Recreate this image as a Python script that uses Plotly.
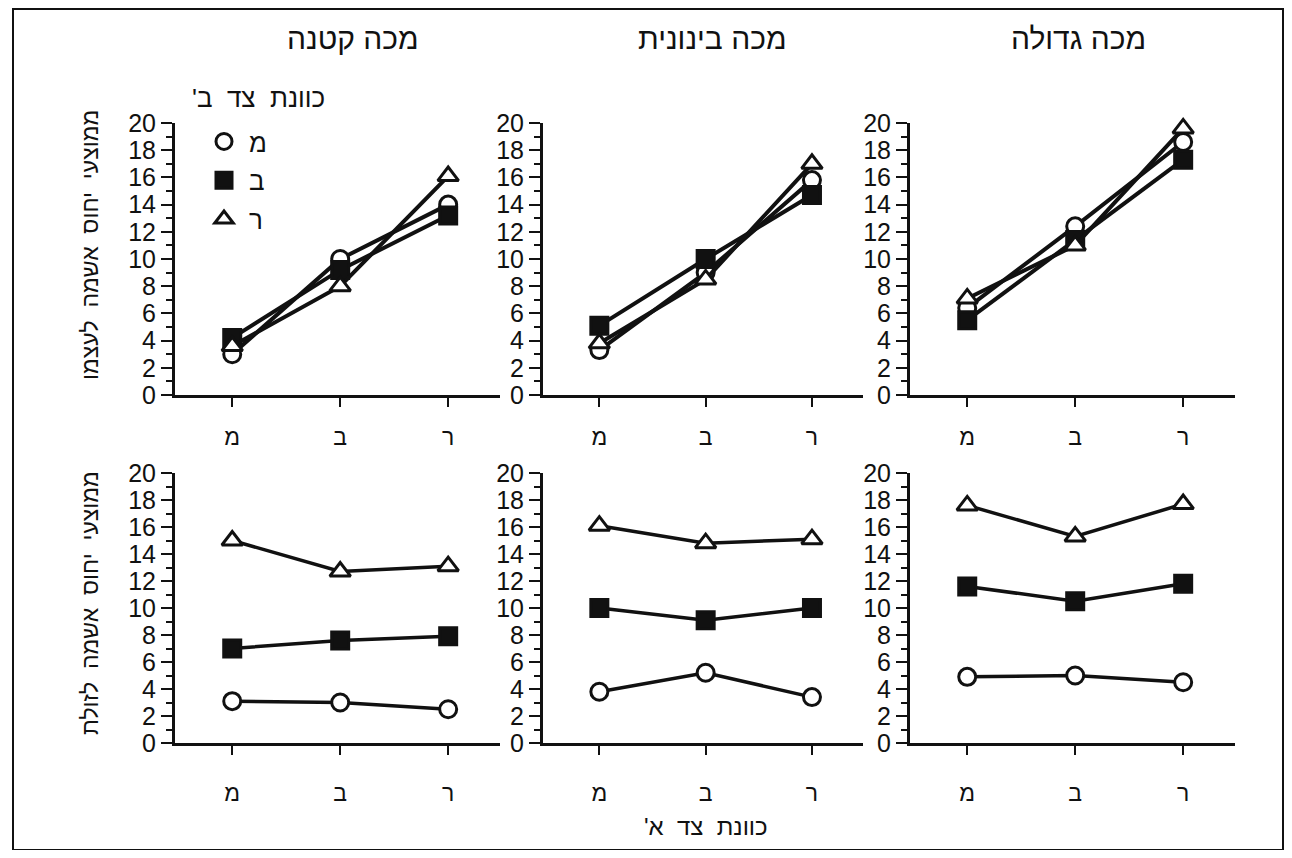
import plotly.graph_objects as go
from plotly.subplots import make_subplots

# ---------------- data ----------------
categories = ["מ", "ב", "ר"]            # כוונת צד א'
series_names = ["מ", "ב", "ר"]          # כוונת צד ב'
panel_titles = ["מכה קטנה", "מכה בינונית", "מכה גדולה"]
row_titles = ["ממוצעי יחוס אשמה לעצמו", "ממוצעי יחוס אשמה לזולת"]
legend_title = "כוונת צד ב'"
x_title = "כוונת צד א'"
y_ticks = [0, 2, 4, 6, 8, 10, 12, 14, 16, 18, 20]

# top row: self blame
self_small_m = [3.0, 10.0, 14.0]
self_small_b = [4.2, 9.2, 13.2]
self_small_r = [3.6, 8.0, 16.1]
self_mid_m = [3.3, 9.0, 15.8]
self_mid_b = [5.1, 10.0, 14.7]
self_mid_r = [3.8, 8.5, 17.0]
self_large_m = [6.4, 12.4, 18.6]
self_large_b = [5.5, 11.4, 17.3]
self_large_r = [7.1, 11.0, 19.6]

# bottom row: blame of other
other_small_m = [3.1, 3.0, 2.5]
other_small_b = [7.0, 7.6, 7.9]
other_small_r = [15.0, 12.7, 13.1]
other_mid_m = [3.8, 5.2, 3.4]
other_mid_b = [10.0, 9.1, 10.0]
other_mid_r = [16.1, 14.8, 15.1]
other_large_m = [4.9, 5.0, 4.5]
other_large_b = [11.6, 10.5, 11.8]
other_large_r = [17.6, 15.3, 17.7]

panels = {
    (1, 1): [self_small_m, self_small_b, self_small_r],
    (1, 2): [self_mid_m, self_mid_b, self_mid_r],
    (1, 3): [self_large_m, self_large_b, self_large_r],
    (2, 1): [other_small_m, other_small_b, other_small_r],
    (2, 2): [other_mid_m, other_mid_b, other_mid_r],
    (2, 3): [other_large_m, other_large_b, other_large_r],
}

# ---------------- styling ----------------
OFF = 8                      # page body margin
W, H = 1292 - 2 * OFF, 858 - 2 * OFF
FONT = "Liberation Sans, Arial, DejaVu Sans, sans-serif"
INK = "#111111"
marker_sym = ["circle", "square", "triangle-up"]
marker_fill = ["white", INK, "white"]


def px(x):
    return (x - OFF) / W


def py(y):
    return 1 - (y - OFF) / H


def rtl(s):
    # widen word gaps and keep trailing punctuation on the RTL side
    return s.replace(" ", "\u00a0 ") + "\u200f"


col_px = [(175, 500), (543, 863), (910, 1235)]
row_px = [(123, 395), (473, 743)]  # (y of 20, y of 0)

fig = make_subplots(rows=2, cols=3)

for (r, c), vals in panels.items():
    lw = 4 if r == 1 else 3.5
    for k, v in enumerate(vals):
        fig.add_trace(
            go.Scatter(
                x=categories, y=v, mode="lines+markers",
                line=dict(color=INK, width=lw),
                marker=dict(symbol=marker_sym[k], size=17 if k != 2 else 18,
                            color=marker_fill[k],
                            line=dict(color=INK, width=3)),
                cliponaxis=False, showlegend=False, hoverinfo="skip",
            ),
            row=r, col=c,
        )

# legend-only traces
for k, name in enumerate(series_names):
    fig.add_trace(
        go.Scatter(
            x=[None], y=[None], mode="markers", name=name,
            legendgroup=f"g{k}",
            marker=dict(symbol=marker_sym[k], size=17, color=marker_fill[k],
                        line=dict(color=INK, width=3)),
        ),
        row=1, col=1,
    )

for r in (1, 2):
    for c in (1, 2, 3):
        n = (r - 1) * 3 + c
        xs = "xaxis" if n == 1 else f"xaxis{n}"
        ys = "yaxis" if n == 1 else f"yaxis{n}"
        x0, x1 = col_px[c - 1]
        ytop, ybot = row_px[r - 1]
        fig.layout[xs].update(
            domain=[px(x0), px(x1)],
            type="category", range=[-0.53, 2.48], automargin=False,
            showline=True, linecolor=INK, linewidth=3,
            ticks="outside", ticklen=9, tickwidth=2, tickcolor=INK,
            ticklabelstandoff=10 if r == 1 else 18,
            tickfont=dict(size=23, color=INK, family=FONT),
            showgrid=False, zeroline=False, fixedrange=True,
        )
        fig.layout[ys].update(
            domain=[py(ybot), py(ytop)], automargin=False,
            range=[0, 20], tickvals=y_ticks,
            showline=True, linecolor=INK, linewidth=3,
            ticks="outside", ticklen=11, tickwidth=2, tickcolor=INK,
            minor=dict(dtick=1, ticks="outside", ticklen=6, tickwidth=2,
                       tickcolor=INK),
            tickfont=dict(size=25, color=INK, family=FONT),
            showgrid=False, zeroline=False, fixedrange=True,
        )

annotations = []
title_x = [353, 712, 1078]
for c, t in enumerate(panel_titles):
    annotations.append(dict(x=px(title_x[c]), y=py(38), xref="paper", yref="paper",
                            xanchor="center", yanchor="middle",
                            text=t, showarrow=False,
                            font=dict(size=30, family=FONT, color=INK)))
for yc, t in zip((245, 603), row_titles):
    annotations.append(dict(x=px(90), y=py(yc), xref="paper", yref="paper",
                            xanchor="center", yanchor="middle",
                            text=rtl(t), textangle=-90, showarrow=False,
                            font=dict(size=23, family=FONT, color=INK)))
annotations.append(dict(x=px(706), y=py(826), xref="paper", yref="paper",
                        xanchor="center", yanchor="middle",
                        text=rtl(x_title), showarrow=False,
                        font=dict(size=24, family=FONT, color=INK)))
# legend heading
annotations.append(dict(x=px(258), y=py(98), xref="paper", yref="paper",
                        xanchor="center", yanchor="middle",
                        text=rtl(legend_title), showarrow=False,
                        font=dict(size=26, family=FONT, color=INK)))

fig.update_layout(
    width=W, height=H,
    margin=dict(l=0, r=0, t=0, b=0, autoexpand=False),
    paper_bgcolor="white", plot_bgcolor="white",
    font=dict(family=FONT, color=INK),
    annotations=annotations,
    showlegend=True,
    legend=dict(
        x=px(199), y=py(118), xanchor="left", yanchor="top",
        font=dict(size=26, family=FONT, color=INK),
        bgcolor="rgba(0,0,0,0)", tracegroupgap=2,
        itemwidth=40,
    ),
    shapes=[dict(type="rect", xref="paper", yref="paper",
                 x0=px(13), x1=px(1283), y0=py(850), y1=py(9),
                 line=dict(color=INK, width=2))],
)

fig.write_html("out.html")
